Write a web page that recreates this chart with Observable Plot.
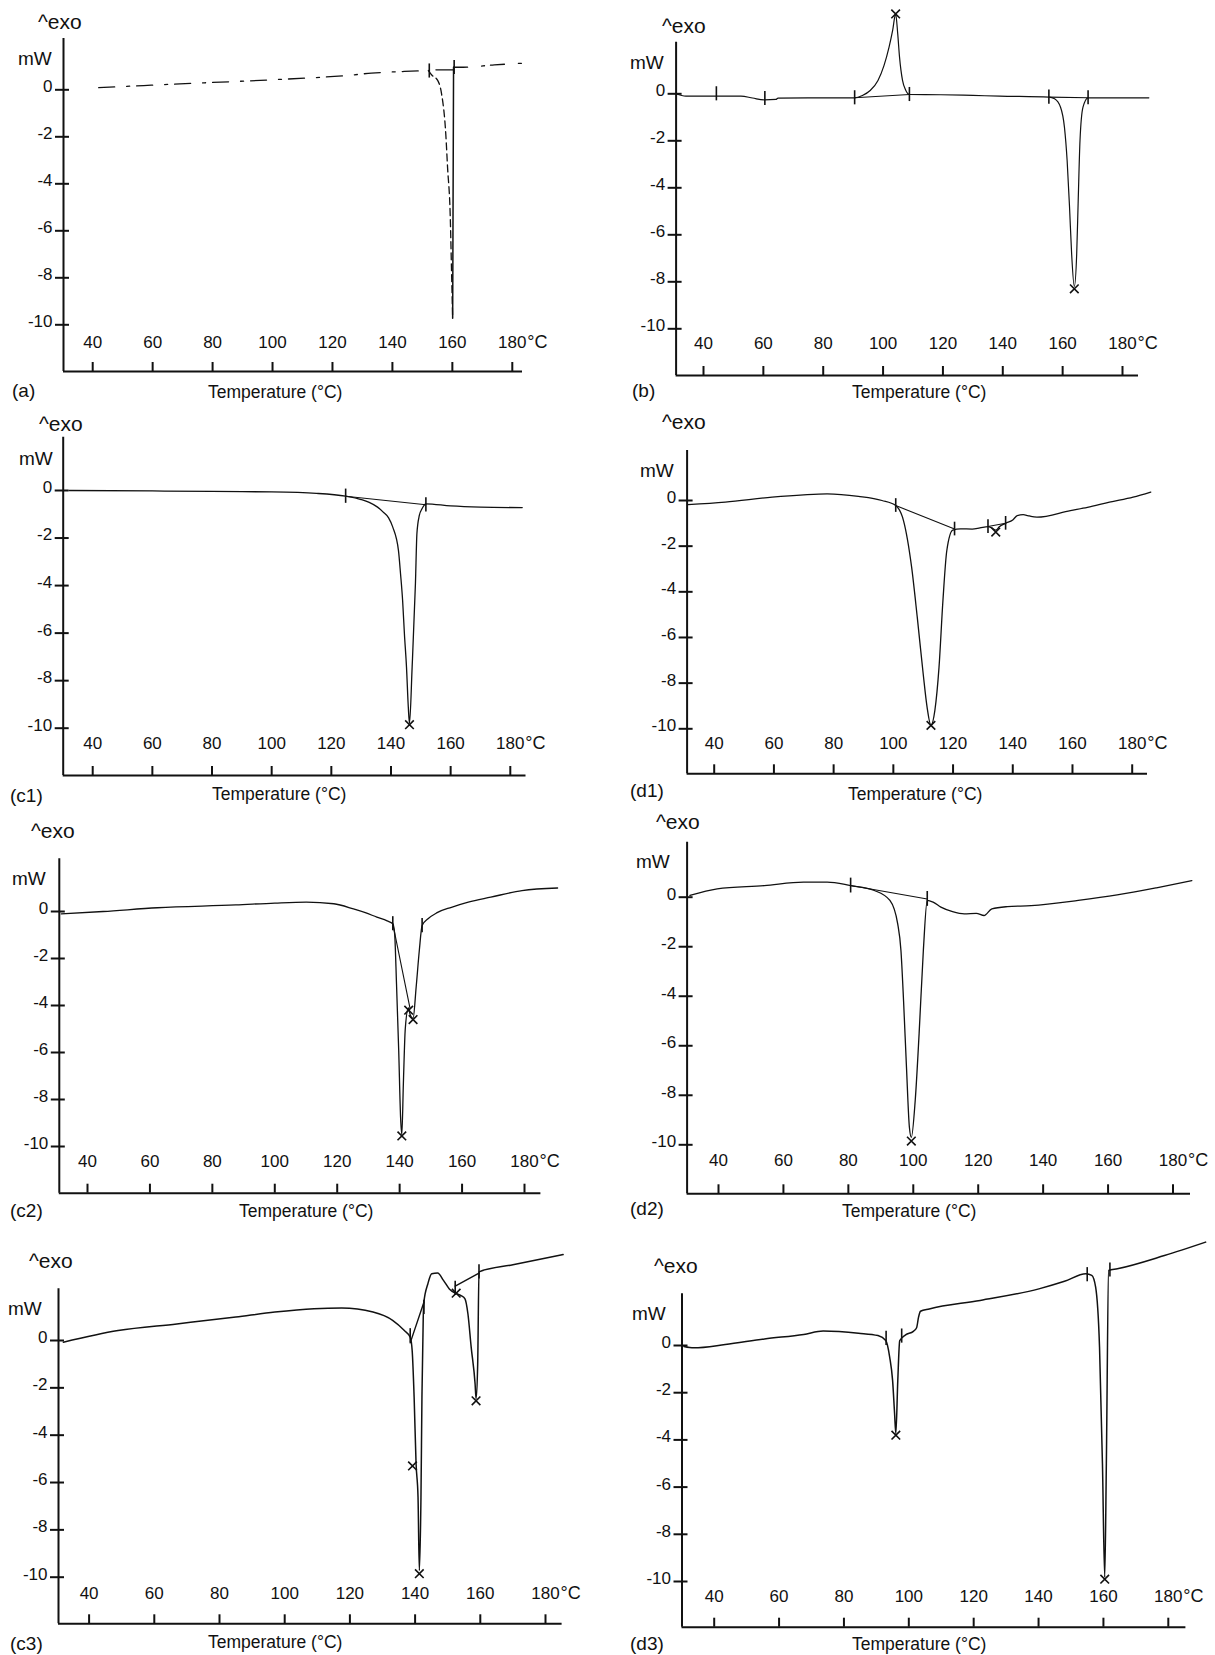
<!DOCTYPE html>
<html><head><meta charset="utf-8">
<script src="https://cdn.jsdelivr.net/npm/d3@7"></script>
<script src="https://cdn.jsdelivr.net/npm/@observablehq/plot@0.6"></script>
<style>
body{margin:0;background:#fff;}
#page{position:relative;width:1215px;height:1655px;overflow:hidden;font-family:"Liberation Sans",Arial,Helvetica,sans-serif;color:#111;background:#fff;}
.cell{position:absolute;}
.lbl{position:absolute;white-space:nowrap;line-height:1;}
</style></head><body><div id="page"></div>
<script>
// ---------- tick labels / categories ----------
const xTicks = [40, 60, 80, 100, 120, 140, 160, 180];
const yTicks = [0, -2, -4, -6, -8, -10];
const panelNames = ["(a)", "(b)", "(c1)", "(d1)", "(c2)", "(d2)", "(c3)", "(d3)"];
const yLabel = "mW";
const exoLabel = "^exo";
const xLabel = "Temperature (°C)";

// ---------- (a) ----------
const a_leftT = [42, 57, 74, 87, 102, 113, 125, 133, 144, 152];
const a_leftY = [0.09, 0.18, 0.28, 0.35, 0.44, 0.51, 0.61, 0.71, 0.78, 0.82];
const a_dropT = [152, 153.2, 155.1, 156.4, 157.8, 158.4, 159.3, 159.7, 160.1];
const a_dropY = [0.82, 0.62, 0.4, -0.17, -1.87, -3.3, -5.4, -7.55, -9.72];
const a_riseT = [160.1, 160.4];
const a_riseY = [-9.72, 0.96];
const a_rightT = [160.4, 163.6, 174, 183.3];
const a_rightY = [0.96, 0.96, 1.06, 1.13];
const a_baseT = [154.5, 160.4];
const a_baseY = [0.85, 0.85];
const a_brT = [152.3, 160.6];
const a_brY = [0.8, 0.95];

// ---------- (b) ----------
const b_T = [30.8, 34.1, 45, 52.5, 56.4, 60.3, 64.2, 64.9, 75, 90.5, 93.1, 95.7, 98.3, 100.3, 102, 103.2, 104.2, 104.9, 105.5, 106.5, 107.5, 108.8, 119.3, 130, 139, 155.4, 157.3, 159.3, 160.6, 161.5, 162.3, 163, 163.9, 164.7, 165.2, 165.8, 166.8, 168.5, 188.8];
const b_Y = [0, -0.1, -0.1, -0.1, -0.18, -0.26, -0.24, -0.18, -0.17, -0.17, -0.07, 0.14, 0.57, 1.2, 1.99, 2.7, 3.4, 2.55, 1.56, 0.57, 0.17, -0.03, -0.04, -0.07, -0.1, -0.14, -0.21, -0.57, -1.42, -2.84, -4.82, -6.8, -8.2, -6.8, -4.54, -1.99, -0.57, -0.17, -0.17];
const b_base1T = [90.5, 108.8], b_base1Y = [-0.17, -0.03];
const b_base2T = [155.4, 168.5], b_base2Y = [-0.14, -0.17];
const b_pkT = [104.2, 163.9], b_pkY = [3.4, -8.3];
const b_brT = [44.3, 60.5, 90.5, 108.8, 155.4, 168.5];
const b_brY = [0.0, -0.2, -0.17, -0.03, -0.14, -0.17];

// ---------- (c1) ----------
const c1_T = [32.1, 60, 80, 100, 115, 124.8, 130, 132.7, 135.5, 137.3, 139.2, 140.6, 142.5, 143.2, 143.9, 144.5, 145.2, 145.8, 146.2, 147.1, 148.2, 148.7, 149.5, 150.4, 151.7, 160, 170, 184];
const c1_Y = [0, -0.02, -0.04, -0.06, -0.12, -0.24, -0.38, -0.5, -0.7, -0.9, -1.15, -1.54, -2.52, -3.5, -4.63, -6.03, -7.43, -9.1, -9.8, -7.4, -3.9, -1.8, -1.05, -0.77, -0.56, -0.65, -0.7, -0.72];
const c1_baseT = [124.8, 151.7], c1_baseY = [-0.24, -0.6];
const c1_pkT = [146.2], c1_pkY = [-9.85];
const c1_brT = [124.8, 151.7], c1_brY = [-0.24, -0.6];

// ---------- (d1) ----------
const d1_T = [31.2, 43.7, 59.4, 70, 77.8, 88.3, 96.2, 100.8, 103.4, 106.1, 108, 110, 111.3, 112.6, 113.9, 115.3, 116.6, 117.9, 119.9, 122.5, 126.4, 129, 131.7, 133, 134.3, 135.5, 137.6, 140, 141.5, 143.5, 145, 146.1, 148.1, 159.3, 165, 172.4, 180.3, 186.2];
const d1_Y = [-0.18, -0.07, 0.15, 0.25, 0.29, 0.18, 0, -0.22, -0.88, -2.9, -5.1, -7.6, -9.05, -9.85, -9.2, -7.3, -4.4, -2.2, -1.3, -1.24, -1.25, -1.2, -1.14, -1.2, -1.3, -1.15, -1.0, -0.85, -0.66, -0.62, -0.66, -0.7, -0.73, -0.44, -0.3, -0.07, 0.15, 0.37];
const d1_base1T = [100.8, 120.5], d1_base1Y = [-0.22, -1.25];
const d1_base2T = [131.7, 137.6], d1_base2Y = [-1.14, -1.0];
const d1_pkT = [112.6, 134.3], d1_pkY = [-9.85, -1.38];
const d1_brT = [100.8, 120.5, 131.7, 137.6], d1_brY = [-0.22, -1.25, -1.14, -1.0];

// ---------- (c2) ----------
const c2_T = [31.6, 45, 62.4, 87.5, 100, 110.1, 118.9, 125.2, 129, 132.7, 136, 137.8, 138.4, 139, 139.7, 140.3, 140.7, 141.2, 141.8, 142.8, 143.4, 144.3, 145.3, 146.3, 147.2, 149.1, 152, 156.6, 162, 169.2, 179.2, 190.6];
const c2_Y = [-0.1, 0.0, 0.16, 0.28, 0.36, 0.4, 0.33, 0.11, -0.05, -0.24, -0.4, -0.52, -0.95, -3.1, -5.9, -8.75, -9.5, -7.3, -5.0, -4.1, -4.4, -4.55, -3.2, -1.66, -0.6, -0.31, -0.05, 0.18, 0.4, 0.61, 0.89, 1.0];
const c2_auxT = [137.8, 143.3], c2_auxY = [-0.52, -4.1];
const c2_pkT = [140.7, 142.9, 144.3], c2_pkY = [-9.55, -4.2, -4.6];
const c2_brT = [137.8, 147.2], c2_brY = [-0.52, -0.6];

// ---------- (d2) ----------
const d2_T = [31.2, 39.6, 54.1, 66.2, 73.5, 80.7, 88, 92.8, 95.2, 96.2, 97, 97.9, 98.8, 99.4, 100.6, 101.8, 103.1, 104.3, 106.1, 108.5, 112.1, 115.7, 119.4, 121.8, 124.2, 129, 136.3, 150.8, 162.8, 174.9, 185.8];
const d2_Y = [0.07, 0.34, 0.47, 0.61, 0.61, 0.47, 0.27, -0.13, -1.08, -2.15, -4.17, -6.86, -9.29, -9.7, -8.2, -5.5, -2.15, -0.13, -0.2, -0.4, -0.58, -0.67, -0.65, -0.74, -0.47, -0.38, -0.34, -0.13, 0.09, 0.38, 0.67];
const d2_baseT = [80.7, 104.3], d2_baseY = [0.47, -0.07];
const d2_pkT = [99.4], d2_pkY = [-9.85];
const d2_brT = [80.7, 104.3], d2_brY = [0.47, -0.07];

// ---------- (c3) ----------
const c3_T = [32.1, 48.9, 66.9, 85, 97, 109, 117.5, 127.1, 133.1, 136.7, 138.5, 139.1, 139.7, 140.3, 140.9, 141.3, 141.8, 142.1, 142.5, 142.7, 143.9, 145.1, 146.9, 148.7, 150.5, 152.3, 154.1, 155.3, 156.2, 157.2, 158.4, 158.7, 159.2, 159.6, 170, 185.4];
const c3_Y = [-0.07, 0.42, 0.7, 0.99, 1.2, 1.34, 1.37, 1.2, 0.85, 0.42, 0.14, -0.42, -2.39, -5.21, -6.62, -9.72, -6.62, -2.39, 0.99, 1.62, 2.39, 2.82, 2.85, 2.54, 2.18, 2.0, 1.9, 1.76, 1.13, -0.28, -1.83, -2.46, -0.99, 2.9, 3.2, 3.63];
const c3_base1T = [138.5, 142.7], c3_base1Y = [-0.1, 1.62];
const c3_base2T = [152.3, 159.6], c3_base2Y = [2.3, 2.85];
const c3_pkT = [139.2, 141.3, 152.6, 158.7], c3_pkY = [-5.3, -9.85, 2.0, -2.55];
const c3_brT = [138.5, 142.7, 152.3, 159.6], c3_brY = [0.2, 1.4, 2.2, 2.9];

// ---------- (d3) ----------
const d3_T = [30.7, 33.7, 43.4, 55.5, 67.6, 73.6, 84.5, 90.5, 92.9, 94.1, 95, 95.6, 96, 96.6, 97.2, 99, 101.4, 102.4, 103, 103.6, 106.3, 122, 140.1, 148, 154.6, 156.4, 157.6, 158.8, 159.7, 160.4, 160.9, 161.6, 164.3, 178.8, 191.5];
const d3_Y = [-0.04, -0.1, 0.04, 0.28, 0.47, 0.61, 0.52, 0.42, 0.21, -0.49, -1.48, -2.85, -3.74, -1.48, 0.21, 0.45, 0.6, 0.75, 1.2, 1.45, 1.55, 1.91, 2.4, 2.72, 3.04, 2.97, 2.47, -0.07, -5.01, -9.82, -5.01, 3.18, 3.25, 3.81, 4.38];
const d3_pkT = [96, 160.4], d3_pkY = [-3.8, -9.9];
const d3_brT = [93, 97.8, 155, 162], d3_brY = [0.3, 0.4, 3.0, 3.2];

// ---------- drawing ----------
const STROKE = "#111";
const page = document.getElementById("page");
const pts = (T, Y) => T.map((t, i) => ({t, y: Y[i]}));
const curve = (T, Y, o = {}) => Plot.line(pts(T, Y), {x: "t", y: "y", stroke: STROKE, strokeWidth: 1.3, curve: "monotone-x", ...o});
const seg = (T, Y, o = {}) => Plot.line(pts(T, Y), {x: "t", y: "y", stroke: STROKE, strokeWidth: 1.1, ...o});
const cross = (T, Y) => Plot.dot(pts(T, Y), {x: "t", y: "y", symbol: "times", r: 4, stroke: STROKE, strokeWidth: 1.6});
const brackets = (T, Y) => Plot.ruleX(pts(T, Y), {x: "t", y1: d => d.y - 0.3, y2: d => d.y + 0.3, stroke: STROKE, strokeWidth: 1.6});

function label(text, x, cy, size) {
  const d = document.createElement("div");
  d.className = "lbl";
  d.textContent = text;
  d.style.left = x + "px";
  d.style.top = (cy - size / 2) + "px";
  d.style.fontSize = size + "px";
  d.style.zIndex = 5;
  page.appendChild(d);
}

function drawPanel(cfg) {
  const kx = (cfg.x180 - cfg.x40) / 140;
  const ky = (cfg.y10 - cfg.y0) / 10;
  const xd = [40 + (cfg.left - cfg.x40) / kx, 180 + (cfg.right - cfg.x180) / kx];
  const yd = [-(cfg.bottom - cfg.y0) / ky, (cfg.y0 - cfg.top) / ky];
  const marks = [
    Plot.ruleX([xd[0]], {stroke: STROKE, strokeWidth: 2}),
    Plot.ruleY([yd[0]], {stroke: STROKE, strokeWidth: 2}),
    Plot.ruleY(yTicks, {y: d => d, x1: xd[0] - 8 / kx, x2: xd[0] + 6 / kx, stroke: STROKE, strokeWidth: 2}),
    Plot.text(yTicks, {y: d => d, frameAnchor: "left", dx: -11, dy: -3, textAnchor: "end", text: d => String(d), fontSize: 17, fill: STROKE}),
    Plot.ruleX(xTicks, {x: d => d, y1: yd[0], y2: yd[0] + 9 / ky, stroke: STROKE, strokeWidth: 2}),
    Plot.text(xTicks, {x: d => d, frameAnchor: "bottom", dy: -cfg.off, text: d => String(d), fontSize: 17, fill: STROKE}),
    Plot.text([180], {x: d => d, frameAnchor: "bottom", dy: -cfg.off, dx: 15, textAnchor: "start", text: () => "°C", fontSize: 18, fill: STROKE}),
    ...cfg.marks
  ];
  const svg = Plot.plot({
    width: cfg.cw, height: cfg.ch,
    marginLeft: cfg.left - cfg.cx, marginRight: cfg.cx + cfg.cw - cfg.right,
    marginTop: cfg.top - cfg.cy, marginBottom: cfg.cy + cfg.ch - cfg.bottom,
    x: {domain: xd, axis: null}, y: {domain: yd, axis: null},
    style: {background: "transparent", overflow: "visible", fontFamily: '"Liberation Sans", Arial, Helvetica, sans-serif', fontSize: "17px", color: STROKE},
    marks
  });
  const wrap = document.createElement("div");
  wrap.className = "cell";
  wrap.style.left = cfg.cx + "px";
  wrap.style.top = cfg.cy + "px";
  wrap.appendChild(svg);
  page.appendChild(wrap);
  label(exoLabel, cfg.exo[0], cfg.exo[1], 21);
  label(yLabel, cfg.mw[0], cfg.mw[1], 19);
  label(cfg.name, cfg.nm[0], cfg.nm[1], 19);
  label(xLabel, cfg.tl[0], cfg.tl[1], 17.5);
}

const panels = [
  {name: panelNames[0], cx: 0, cy: 0, cw: 607, ch: 400, left: 63, right: 522, top: 38, bottom: 371, y0: 89.3, y10: 324.3, x40: 92.2, x180: 511.8, off: 24,
   exo: [38, 21.7], mw: [18, 58], nm: [12, 390], tl: [208, 393],
   marks: [
     curve(a_leftT, a_leftY, {strokeDasharray: "16,12,3,7"}),
     curve(a_dropT, a_dropY, {strokeDasharray: "7,4"}),
     seg(a_riseT, a_riseY, {strokeWidth: 1.5}),
     curve(a_rightT, a_rightY, {strokeDasharray: "14,14,3,6"}),
     seg(a_baseT, a_baseY),
     brackets(a_brT, a_brY)
   ]},
  {name: panelNames[1], cx: 607, cy: 0, cw: 608, ch: 400, left: 675.6, right: 1138, top: 41.7, bottom: 375, y0: 93.3, y10: 328.3, x40: 703, x180: 1122, off: 27,
   exo: [662, 25], mw: [630, 62], nm: [632, 390], tl: [852, 393],
   marks: [
     curve(b_T, b_Y, {strokeWidth: 1.2}),
     seg(b_base1T, b_base1Y), seg(b_base2T, b_base2Y),
     cross(b_pkT, b_pkY), brackets(b_brT, b_brY)
   ]},
  {name: panelNames[2], cx: 0, cy: 400, cw: 607, ch: 400, left: 62.7, right: 525.5, top: 436.7, bottom: 775, y0: 490, y10: 727.7, x40: 92.2, x180: 509.8, off: 27,
   exo: [39, 423], mw: [19, 458], nm: [10, 795], tl: [212, 795],
   marks: [
     curve(c1_T, c1_Y), seg(c1_baseT, c1_baseY),
     cross(c1_pkT, c1_pkY), brackets(c1_brT, c1_brY)
   ]},
  {name: panelNames[3], cx: 607, cy: 400, cw: 608, ch: 400, left: 686.6, right: 1147, top: 450, bottom: 773.3, y0: 500, y10: 728.3, x40: 713.7, x180: 1131.7, off: 25,
   exo: [662, 421.7], mw: [640, 470], nm: [630, 790], tl: [848, 795],
   marks: [
     curve(d1_T, d1_Y), seg(d1_base1T, d1_base1Y), seg(d1_base2T, d1_base2Y),
     cross(d1_pkT, d1_pkY), brackets(d1_brT, d1_brY)
   ]},
  {name: panelNames[4], cx: 0, cy: 800, cw: 607, ch: 425, left: 58.8, right: 540.4, top: 858.3, bottom: 1192.7, y0: 911, y10: 1146, x40: 87, x180: 524, off: 26,
   exo: [31, 830], mw: [12, 878], nm: [10, 1210], tl: [239, 1211.7],
   marks: [
     curve(c2_T, c2_Y), seg(c2_auxT, c2_auxY),
     cross(c2_pkT, c2_pkY), brackets(c2_brT, c2_brY)
   ]},
  {name: panelNames[5], cx: 607, cy: 800, cw: 608, ch: 425, left: 686.6, right: 1190, top: 841.7, bottom: 1193.3, y0: 896.7, y10: 1144.3, x40: 718, x180: 1172.5, off: 28,
   exo: [656, 821.7], mw: [636, 861.7], nm: [630, 1208], tl: [842, 1211.7],
   marks: [
     curve(d2_T, d2_Y), seg(d2_baseT, d2_baseY),
     cross(d2_pkT, d2_pkY), brackets(d2_brT, d2_brY)
   ]},
  {name: panelNames[6], cx: 0, cy: 1225, cw: 607, ch: 430, left: 58, right: 561.6, top: 1288.3, bottom: 1623.3, y0: 1340, y10: 1576.7, x40: 88.6, x180: 545, off: 25,
   exo: [29, 1260], mw: [8, 1308], nm: [10, 1643], tl: [208, 1643],
   marks: [
     curve(c3_T, c3_Y, {strokeWidth: 1.5}), seg(c3_base1T, c3_base1Y, {strokeWidth: 1.4}), seg(c3_base2T, c3_base2Y, {strokeWidth: 1.4}),
     cross(c3_pkT, c3_pkY), brackets(c3_brT, c3_brY)
   ]},
  {name: panelNames[7], cx: 607, cy: 1225, cw: 608, ch: 430, left: 681.5, right: 1185.4, top: 1293.3, bottom: 1626.7, y0: 1345, y10: 1581, x40: 713.7, x180: 1167.8, off: 25,
   exo: [654, 1265], mw: [632, 1313], nm: [630, 1643], tl: [852, 1645],
   marks: [
     curve(d3_T, d3_Y, {strokeWidth: 1.5}),
     cross(d3_pkT, d3_pkY), brackets(d3_brT, d3_brY)
   ]}
];

panels.forEach(drawPanel);
</script>
</body></html>
